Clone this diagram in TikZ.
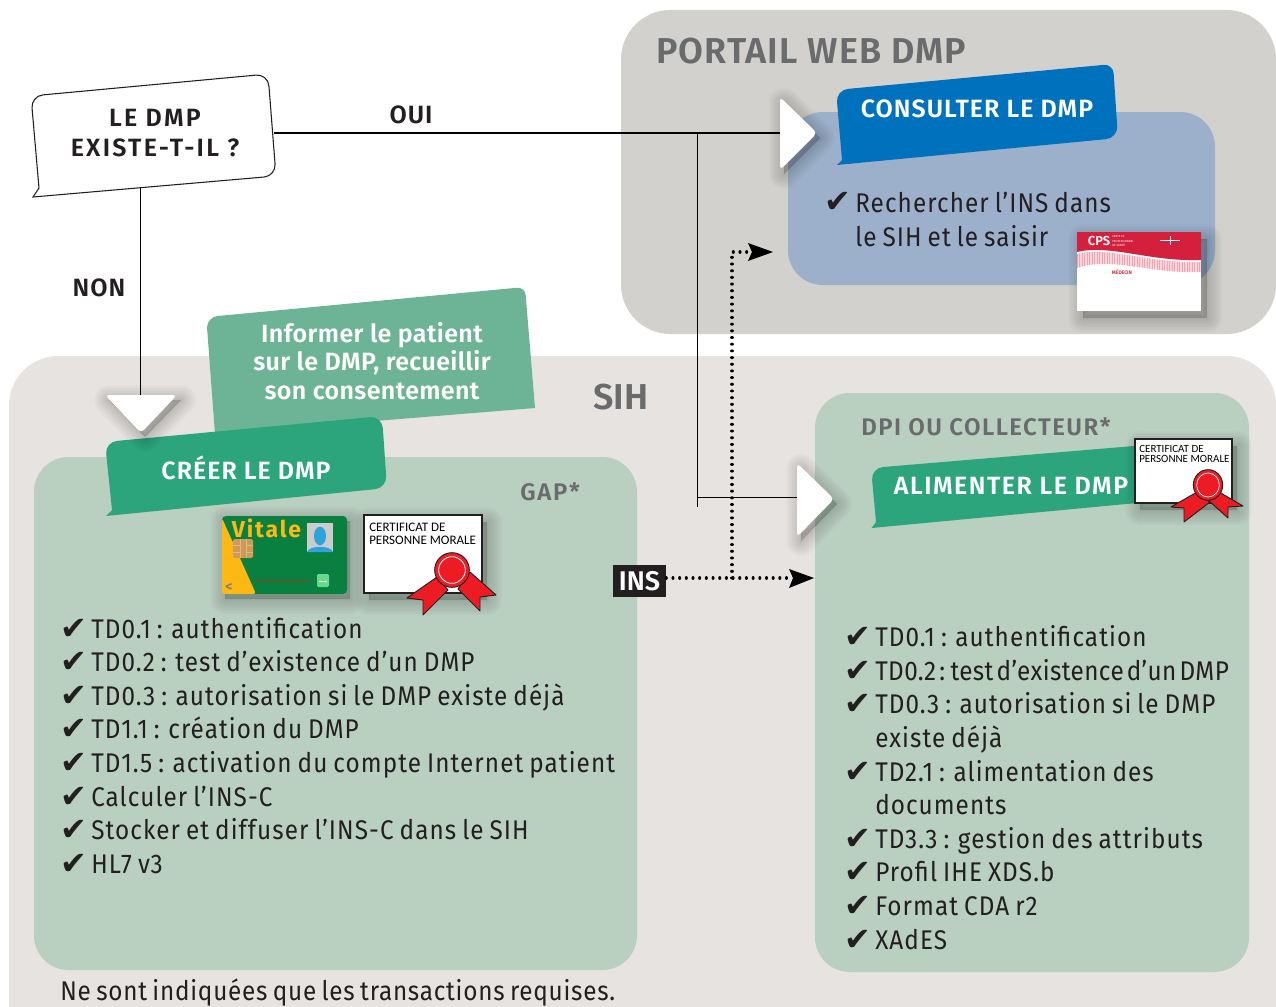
\documentclass[tikz,border=0pt]{standalone}
\usepackage{fontspec}
\setmainfont{Fira Sans}
\newfontfamily\symb{DejaVu Sans}
\newfontfamily\certf{Carlito}
\newfontfamily\listf[FakeStretch=0.9,LetterSpace=4,WordSpace=0.8]{Fira Sans}
\newfontfamily\listtight[FakeStretch=0.9,LetterSpace=1.5,WordSpace=0.45]{Fira Sans}
\newfontfamily\listfoot[FakeStretch=0.9,LetterSpace=2.8,WordSpace=0.75]{Fira Sans}
\newfontfamily\headf{Fira Sans SemiBold}
\usetikzlibrary{arrows.meta,calc}
\definecolor{panelPortal}{HTML}{D3D1CD}
\definecolor{panelSIH}{HTML}{E6E3E0}
\definecolor{panelGreen}{HTML}{B9CFC0}
\definecolor{panelBlue}{HTML}{9CB0CC}
\definecolor{greenStrong}{HTML}{2CA57D}
\definecolor{greenSoft}{HTML}{6DB496}
\definecolor{blueStrong}{HTML}{0071BC}
\definecolor{titleGrey}{HTML}{6A6B6D}
\definecolor{ink}{HTML}{231F20}
\definecolor{ribbon}{HTML}{ED1C24}
\definecolor{vgreen}{HTML}{0A8040}
\definecolor{vyellow}{HTML}{FDB913}
\definecolor{chipc}{HTML}{CF9A55}
\definecolor{facec}{HTML}{2FA4DC}
\definecolor{cpsred}{HTML}{D41F3D}
\newcommand{\pxf}[1]{\fontsize{\dimexpr#1pt*3/4\relax}{\dimexpr#1pt*9/10\relax}\selectfont}
\tikzset{
  panel/.style={inner sep=0pt,outer sep=0pt},
  listtext/.style={anchor=base west,inner sep=0pt,text=ink,font=\listf\pxf{27}},
  chk/.style={anchor=base west,inner sep=0pt,text=ink,font=\symb\pxf{32}},
  heading/.style={inner sep=0pt,text=titleGrey},
  banner/.style={inner sep=0pt,text=white,font=\headf\pxf{25}\addfontfeature{LetterSpace=4}},
  dark/.style={inner sep=0pt,text=ink,font=\headf\pxf{25}\addfontfeature{LetterSpace=9},align=center},
  darkshort/.style={inner sep=0pt,text=ink,font=\headf\pxf{25}\addfontfeature{LetterSpace=4}},
  link/.style={draw=black,line width=1.1pt},
  linkthin/.style={draw=black,line width=.75pt},
  dots/.style={draw=black,line width=2.3pt,line cap=round,dash pattern=on .01pt off 5pt},
  shade1/.style={fill=black,fill opacity=.014,draw=black,draw opacity=.014,line join=round},
  certtext/.style={anchor=west,inner sep=0pt,align=left,text=black},
}
\newcommand{\softshadow}[2]{%
  \foreach \w in {30,27,24,21,18,15,12,9,6,3,1}{
    \path[shift={#1},shade1,line width=\w*.75pt] #2;
  }
}
\begin{document}
\begin{tikzpicture}[x=0.75pt,y=-0.75pt]
\useasboundingbox (0,0) rectangle (1276,1006);
\clip (0,0) rectangle (1276,1006);
% large panels
\node[panel,fill=panelPortal,rounded corners=37pt,minimum width=655*.75pt,minimum height=324*.75pt] (portal) at (948.5,172) {};
\node[panel,fill=panelSIH,rounded corners=37pt,minimum width=1267*.75pt,minimum height=760*.75pt] (sih) at (642.5,736) {};
\node[panel,fill=panelGreen,rounded corners=26pt,minimum width=603*.75pt,minimum height=513*.75pt] (gap) at (335.5,713.5) {};
\node[panel,fill=panelGreen,rounded corners=26pt,minimum width=434*.75pt,minimum height=579*.75pt] (dpi) at (1032,682.5) {};
\node[panel,fill=panelBlue,rounded corners=26pt,minimum width=427*.75pt,minimum height=173*.75pt] (blue) at (1001.5,198.5) {};
% headings
\node[heading,font=\headf\pxf{36}\addfontfeature{LetterSpace=3},anchor=west] (ptitle) at (656,51) {PORTAIL WEB DMP};
\node[heading,font=\headf\pxf{36},anchor=center] (sihtitle) at (621,397) {SIH};
\node[heading,font=\headf\pxf{24}\addfontfeature{LetterSpace=7},anchor=west] (gaptitle) at (520,492) {GAP*};
\node[heading,font=\headf\pxf{24}\addfontfeature{LetterSpace=6},anchor=west] (dpititle) at (861,427) {DPI OU COLLECTEUR*};
% connector anchors
\coordinate (qE) at (274,133);
\coordinate (qS) at (140,187);
\coordinate (triT) at (141,395);
\coordinate (triW1) at (780,133);
\coordinate (triW2) at (797,497);
\coordinate (juncA) at (697,133);
\coordinate (juncB) at (697,497);
\coordinate (juncEnd) at (697,507);
\coordinate (dotA) at (732,578);
\coordinate (dotB) at (732,252);
\coordinate (arrA) at (789,578);
\coordinate (arrB) at (748,252);
% solid connectors
\draw[linkthin] (qS) -- (qS |- triT);
\draw[link] (qE) -- (triW1);
\draw[linkthin] (juncA) -- (juncEnd);
\draw[linkthin] (juncB) -- (triW2);
% Informer box
\fill[greenSoft] (207,327) to[rounded corners=8pt] (207,317) to[rounded corners=6pt] (525,287) to[rounded corners=0pt] (535,408) -- (215,434) -- cycle;
\node[inner sep=0pt,text=white,align=center,font=\headf\pxf{25}\addfontfeature{LetterSpace=1.5}] (inform) at (372,361) {Informer le patient\\[-1pt]sur le DMP, recueillir\\[-1pt]son consentement};
% Creer banner
\fill[greenStrong] (106,516) -- (112,510) to[rounded corners=9pt] (105,442) to[rounded corners=9pt] (382,416) to[rounded corners=9pt] (387,488) -- cycle;
\node[banner] (creer) at (246,468) {CRÉER LE DMP};
% White triangles
\softshadow{(4,5)}{(105,395) -- (177,395) -- (141,432) -- cycle}
\fill[white,rounded corners=3pt] (105,395) -- (177,395) -- (141,433) -- cycle;
\softshadow{(4,5)}{(780,98) -- (816,133) -- (780,169) -- cycle}
\fill[white,rounded corners=3pt] (780,97) -- (817,133) -- (780,170) -- cycle;
\softshadow{(4,5)}{(797,464) -- (833,499) -- (797,536) -- cycle}
\fill[white,rounded corners=3pt] (797,463) -- (834,499) -- (797,537) -- cycle;
% Question box
\draw[fill=white,draw=ink,line width=.8pt] (33,197) -- (39,188) to[rounded corners=9pt] (31,96) to[rounded corners=9pt] (268,74) to[rounded corners=9pt] (276,176) -- cycle;
\node[dark] (question) at (155,133) {LE DMP\\[.5pt]EXISTE-T-IL ?};
\node[darkshort] (oui) at (411,115) {OUI};
\node[darkshort] (non) at (99,288) {NON};
% Consulter banner
\fill[blueStrong] (837,165) -- (842,160) to[rounded corners=9pt] (836,90) to[rounded corners=7pt] (1113,64) to[rounded corners=9pt] (1118,138) -- cycle;
\node[banner] (consulter) at (977,109) {CONSULTER LE DMP};
\node[chk] (ckblue) at (824,212) {✔};
\node[listtext] (blueA) at (855,212) {Rechercher l’INS dans};
\node[listtext] (blueB) at (855,246) {le SIH et le saisir};
% CPS card
\softshadow{(6,7)}{(1077,232) rectangle (1201,311)}
\fill[white] (1077,232) rectangle (1201,311);
\begin{scope}
  \clip (1077,254) .. controls (1110,246) and (1150,264) .. (1201,262) -- (1201,272) .. controls (1150,274) and (1110,256) .. (1077,268) -- cycle;
  \fill[cpsred!18!white] (1077,240) rectangle (1201,285);
  \foreach \s in {1077,1079.5,...,1201}{\draw[cpsred!40!white,line width=.5pt] (\s,240) -- (\s,285);}
\end{scope}
\fill[cpsred] (1077,232) -- (1201,232) -- (1201,260) .. controls (1150,262) and (1110,244) .. (1077,252) -- cycle;
\node[inner sep=0pt,text=white,font=\headf\pxf{13}] (cps) at (1099,241) {CPS};
\node[inner sep=0pt,text=white,anchor=west,align=left,font=\fontsize{2.2pt}{3.4pt}\selectfont] (cpsb) at (1112,241) {CARTE DE\\PROFESSIONNEL\\DE SANTÉ};
\draw[white,line width=.5pt] (1160,240.5) -- (1180,240.5) (1170,236) -- (1170,245);
\node[inner sep=0pt,text=cpsred,font=\headf\pxf{5}] (med) at (1122,272) {MÉDECIN};
% Vitale card
\softshadow{(3,5)}{(222,516) rectangle (347,594)}
\fill[vgreen,rounded corners=3pt] (222,516) rectangle (347,594);
\fill[vyellow,rounded corners=2pt] (222,518) -- (256,594) -- (222,594) -- cycle;
\fill[chipc,rounded corners=1.5pt] (233,539) rectangle (253,558);
\draw[chipc!70!white,line width=.4pt] (233,545) -- (240,545) (233,552) -- (240,552) (246,545) -- (253,545) (246,552) -- (253,552) (240,539) -- (240,558) (246,539) -- (246,558);
\fill[gray!40!white] (307,523) rectangle (333,552);
\fill[facec] (307,552) .. controls (309,545) and (331,545) .. (333,552) -- cycle;
\fill[facec] (320,536) ellipse (4.5pt and 7pt);
\fill[green!50!teal!60!white,rounded corners=1pt] (317,574) rectangle (329,587);
\draw[white,line width=.6pt] (319,581) -- (327,581);
\draw[brown!60!black,line width=.9pt,dash pattern=on 2pt off 1pt] (257,581) -- (310,581);
\node[inner sep=0pt,text=vyellow,font=\bfseries\pxf{23}\addfontfeature{LetterSpace=8}] (vitale) at (266.5,528) {Vitale};
\node[inner sep=0pt,text=gray,font=\bfseries\pxf{14}] (less) at (229,587) {<};
% Certificate 1
\softshadow{(5,7)}{(364,515) rectangle (482,593)}
\draw[fill=white,draw=ink,line width=1.2pt] (364,515) rectangle (482,593);
\node[certtext,font=\certf\pxf{13}] (certA) at (369,534) {CERTIFICAT DE\\[-1.5pt]PERSONNE MORALE};
\draw[fill=ribbon,draw=ink,line width=.7pt,line join=round] (437,577) -- (407,598) -- (423,600) -- (423,615) -- (448,590) -- cycle;
\draw[fill=ribbon,draw=ink,line width=.7pt,line join=round] (470,572) -- (496,595) -- (480,597) -- (480,611) -- (458,589) -- cycle;
\draw[fill=ribbon,draw=ink,line width=.7pt] (452,570) circle (13pt);
\draw[draw=white,line width=.6pt] (452,570) circle (10pt);
% Alimenter banner
\fill[greenStrong] (871.5,528) -- (876,522) to[rounded corners=9pt] (871,468) -- (1134,446) -- (1137,503) -- cycle;
\node[banner,font=\headf\pxf{25}\addfontfeature{LetterSpace=6}] (alimenter) at (1011,486) {ALIMENTER LE DMP};
% Certificate 2
\softshadow{(5,7)}{(1135,439) rectangle (1232,503)}
\draw[fill=white,draw=ink,line width=1.2pt] (1135,439) rectangle (1232,503);
\node[certtext,font=\certf\pxf{11}] (certB) at (1139,454) {CERTIFICAT DE\\[-3pt]PERSONNE MORALE};
\draw[fill=ribbon,draw=ink,line width=.7pt,line join=round] (1197,492) -- (1171,507) -- (1184,508) -- (1184,522) -- (1210,502) -- cycle;
\draw[fill=ribbon,draw=ink,line width=.7pt,line join=round] (1219,492) -- (1243,506) -- (1228,507) -- (1228,518) -- (1208,500) -- cycle;
\draw[fill=ribbon,draw=ink,line width=.7pt] (1208,485) ellipse (11pt and 11.5pt);
\draw[draw=white,line width=.5pt] (1208,485) ellipse (8.5pt and 9pt);
% INS and dotted links
\node[inner sep=0pt,fill=ink,text=white,font=\headf\pxf{27},minimum width=53*.75pt,minimum height=32*.75pt] (ins) at (639.5,581) {INS};
\draw[dots] (ins.east |- dotA) -- (arrA);
\draw[dots] (dotA) -- (dotB) -- (arrB);
\fill[black] (789,569) -- (814,578) -- (789,588) -- (793,578) -- cycle;
\fill[black] (748,243) -- (773,252) -- (748,261) -- (752,252) -- cycle;
% Left list
\foreach \yy/\tt [count=\i] in {
  638/TD0.1 : authentification,
  671/TD0.2 : test d’existence d’un DMP,
  705/TD0.3 : autorisation si le DMP existe déjà,
  738/TD1.1 : création du DMP,
  772/TD1.5 : activation du compte Internet patient,
  806/Calculer l’INS-C,
  839/Stocker et diffuser l’INS-C dans le SIH,
  873/HL7 v3}{
  \node[chk] (lc\i) at (60,\yy+1) {✔};
  \node[listtext] (lt\i) at (91,\yy) {\tt};
}
% Right list
\foreach \yy/\tt [count=\i] in {
  646/TD0.1 : authentification,
  680/{\listtight\pxf{27}TD0.2 : test d’existence d’un DMP},
  713/TD0.3 : autorisation si le DMP,
  781/TD2.1 : alimentation des,
  848/TD3.3 : gestion des attributs,
  881/Profil IHE XDS.b,
  915/Format CDA r2,
  949/XAdES}{
  \node[chk] (rc\i) at (844,\yy+1) {✔};
  \node[listtext] (rt\i) at (875,\yy) {\tt};
}
\node[listtext] (rcontA) at (875,747) {existe déjà};
\node[listtext] (rcontB) at (875,814) {documents};
\node[listtext,font=\listfoot\pxf{27}] (foot) at (60,1000) {Ne sont indiquées que les transactions requises.};
\end{tikzpicture}
\end{document}
